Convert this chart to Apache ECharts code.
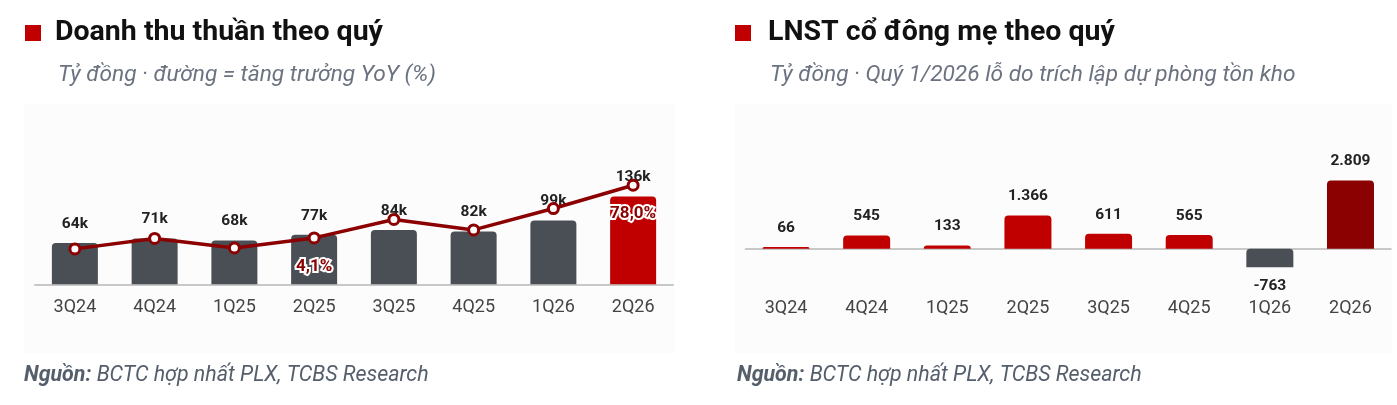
<!DOCTYPE html>
<html>
<head>
<meta charset="utf-8" />
<title>PLX theo quý</title>
<script src="https://cdn.jsdelivr.net/npm/echarts@6/dist/echarts.min.js"></script>
<style>
  html, body { margin: 0; padding: 0; background: #fff; }
  #main { width: 1397px; height: 405px; }
</style>
</head>
<body>
<div id="main"></div>
<script>
var quarters = ['3Q24', '4Q24', '1Q25', '2Q25', '3Q25', '4Q25', '1Q26', '2Q26'];
// doanh thu thuần, nghìn tỷ đồng
var revenue = [64, 71, 68, 77, 84, 82, 99, 136];
// tăng trưởng YoY (%)
var revenueYoY = [-11.3, 3.4, -10.0, 4.1, 30.0, 15.3, 45.3, 78.0];
var yoyLabelled = ['2Q25', '2Q26'];
// LNST cổ đông mẹ, tỷ đồng
var profit = [66, 545, 133, 1366, 611, 565, -763, 2809];

var RED = '#c00000', DARK_RED = '#8b0000', GREY = '#4a4f55';
var FONT = 'Roboto';

function fmtDot(v) {
  var s = String(Math.abs(v)).replace(/\B(?=(\d{3})+(?!\d))/g, '.');
  return (v < 0 ? '-' : '') + s;
}

var last = quarters.length - 1;

var revenueBars = revenue.map(function (v, i) {
  return { value: v, itemStyle: { color: i === last ? RED : GREY } };
});
var profitBars = profit.map(function (v, i) {
  var c = v < 0 ? GREY : (i === last ? DARK_RED : RED);
  return {
    value: v,
    itemStyle: { color: c },
    label: { position: v < 0 ? 'bottom' : 'top' }
  };
});

var chart = echarts.init(document.getElementById('main'));

var dataLabel = {
  show: true, position: 'top', distance: 11,
  fontFamily: FONT, fontSize: 15.5, fontWeight: 'bold', color: '#222'
};
var catLabel = { fontFamily: FONT, fontSize: 18, color: '#444' };

function titleText(x, txt) {
  return { type: 'text', x: x, y: 33, style: { text: txt, fontFamily: FONT, fontSize: 28.5, fontWeight: 'bold', fill: '#111', textVerticalAlign: 'middle' } };
}
function subText(x, txt) {
  return { type: 'text', x: x, y: 75, style: { text: txt, fontFamily: FONT, fontSize: 22.7, fontStyle: 'italic', fill: '#6b7280', textVerticalAlign: 'middle' } };
}
function sourceText(x) {
  return { type: 'text', x: x, y: 376, style: {
    text: '{b|Nguồn:} BCTC hợp nhất PLX, TCBS Research',
    fontFamily: FONT, fontSize: 21.4, fontStyle: 'italic', fill: '#555e6b', textVerticalAlign: 'middle',
    rich: { b: { fontFamily: FONT, fontSize: 21.4, fontStyle: 'italic', fontWeight: 'bold', fill: '#555e6b' } } } };
}

chart.setOption({
  animation: false,
  textStyle: { fontFamily: FONT },
  graphic: [
    { type: 'rect', shape: { x: 24, y: 104, width: 650, height: 249 }, style: { fill: '#fcfcfc' }, z: -10 },
    { type: 'rect', shape: { x: 735, y: 104, width: 657, height: 249 }, style: { fill: '#fcfcfc' }, z: -10 },
    { type: 'rect', shape: { x: 25, y: 25, width: 16, height: 16 }, style: { fill: RED } },
    titleText(55, 'Doanh thu thuần theo quý'),
    subText(58, 'Tỷ đồng · đường = tăng trưởng YoY (%)'),
    { type: 'rect', shape: { x: 735, y: 25, width: 16, height: 16 }, style: { fill: RED } },
    titleText(768, 'LNST cổ đông mẹ theo quý'),
    subText(770, 'Tỷ đồng · Quý 1/2026 lỗ do trích lập dự phòng tồn kho'),
    sourceText(24),
    sourceText(737)
  ],
  grid: [
    { left: 35, right: 724, top: 155.3, height: 129 },
    { left: 745.7, right: 6.2, top: 139.3, height: 150.7 }
  ],
  xAxis: [
    { gridIndex: 0, type: 'category', data: quarters,
      axisLine: { lineStyle: { color: '#c8c8c8', width: 2 } },
      axisTick: { show: false }, axisLabel: Object.assign({ margin: 14 }, catLabel) },
    { gridIndex: 1, type: 'category', data: quarters,
      axisLine: { show: false, onZero: false },
      axisTick: { show: false }, axisLabel: Object.assign({ margin: 9 }, catLabel) },
    { gridIndex: 1, type: 'category', data: quarters,
      axisLine: { onZero: true, lineStyle: { color: '#c8c8c8', width: 2 } },
      axisTick: { show: false }, axisLabel: { show: false } }
  ],
  yAxis: [
    { gridIndex: 0, type: 'value', min: 0, max: 200, show: false, splitLine: { show: false } },
    { gridIndex: 0, type: 'value', min: -61, max: 120, show: false, splitLine: { show: false } },
    { gridIndex: 1, type: 'value', min: -1700, max: 4500, show: false, splitLine: { show: false } }
  ],
  series: [
    {
      type: 'bar', xAxisIndex: 0, yAxisIndex: 0, data: revenueBars, barWidth: 46,
      itemStyle: { borderRadius: [4, 4, 0, 0] },
      label: Object.assign({}, dataLabel, { formatter: function (p) { return p.value + 'k'; } }),
      z: 2
    },
    {
      type: 'line', xAxisIndex: 0, yAxisIndex: 1, data: revenueYoY,
      symbol: 'circle', symbolSize: 10,
      lineStyle: { color: DARK_RED, width: 3.5 },
      itemStyle: { color: '#fff', borderColor: DARK_RED, borderWidth: 3 },
      label: {
        show: true, position: 'bottom', distance: 14,
        fontFamily: FONT, fontSize: 17, fontWeight: 'bold', color: DARK_RED,
        textBorderColor: '#fff', textBorderWidth: 4,
        formatter: function (p) {
          if (yoyLabelled.indexOf(p.name) < 0) return '';
          return p.value.toFixed(1).replace('.', ',') + '%';
        }
      },
      z: 5
    },
    {
      type: 'bar', xAxisIndex: 1, yAxisIndex: 2, data: profitBars, barWidth: 47,
      itemStyle: { borderRadius: [4, 4, 0, 0] },
      label: Object.assign({}, dataLabel, { formatter: function (p) { return fmtDot(p.value); } }),
      z: 2
    }
  ]
});
</script>
</body>
</html>
